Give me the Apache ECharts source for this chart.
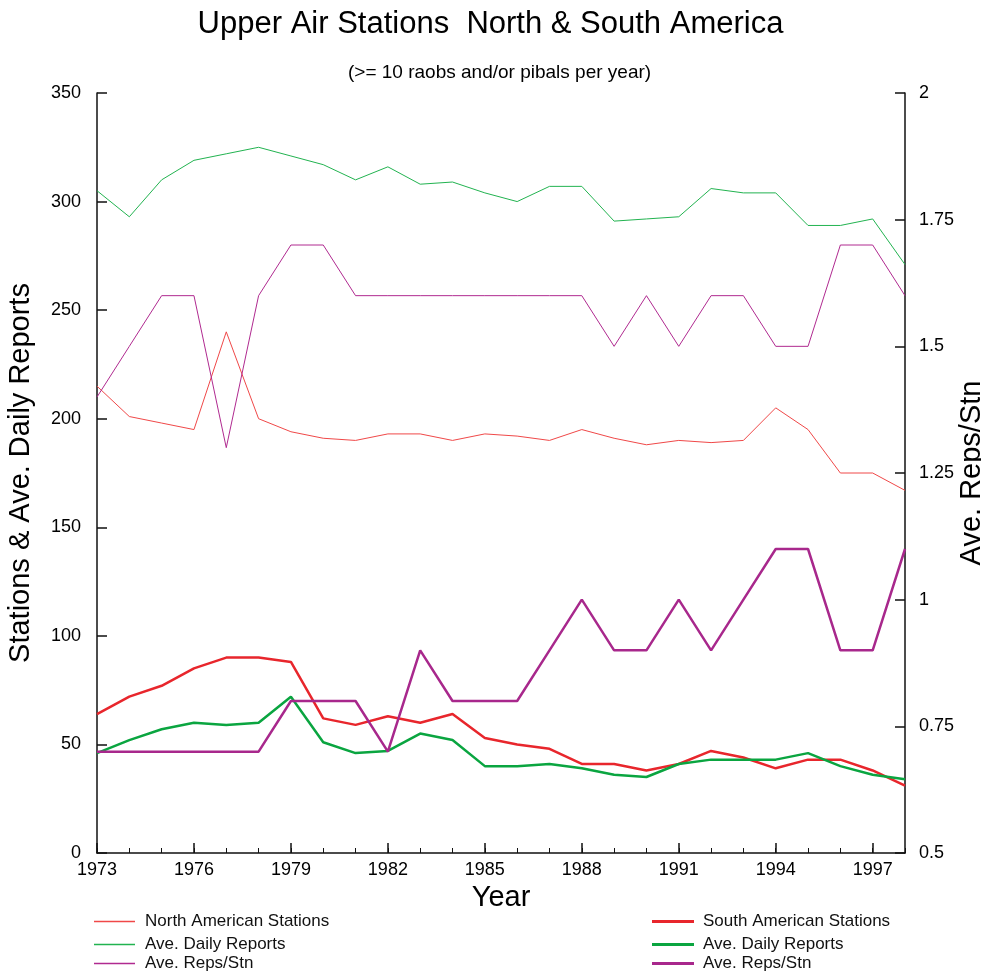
<!DOCTYPE html>
<html>
<head>
<meta charset="utf-8">
<script src="https://cdn.jsdelivr.net/npm/echarts@6/dist/echarts.min.js"></script>
<style>html,body{margin:0;padding:0;background:#fff;overflow:hidden}#c{width:981px;height:972px}</style>
</head>
<body>
<div id="c"></div>
<script>
const years = [1973,1974,1975,1976,1977,1978,1979,1980,1981,1982,1983,1984,1985,1986,1987,1988,1989,1990,1991,1992,1993,1994,1995,1996,1997,1998];
const naStations = [215,201,198,195,240,200,194,191,190,193,193,190,193,192,190,195,191,188,190,189,190,205,195,175,175,167];
const naDaily = [305,293,310,319,322,325,321,317,310,316,308,309,304,300,307,307,291,292,293,306,304,304,289,289,292,271];
const naReps = [1.4,1.5,1.6,1.6,1.3,1.6,1.7,1.7,1.6,1.6,1.6,1.6,1.6,1.6,1.6,1.6,1.5,1.6,1.5,1.6,1.6,1.5,1.5,1.7,1.7,1.6];
const saStations = [64,72,77,85,90,90,88,62,59,63,60,64,53,50,48,41,41,38,41,47,44,39,43,43,38,31];
const saDaily = [46,52,57,60,59,60,72,51,46,47,55,52,40,40,41,39,36,35,41,43,43,43,46,40,36,34];
const saReps = [0.7,0.7,0.7,0.7,0.7,0.7,0.8,0.8,0.8,0.7,0.9,0.8,0.8,0.8,0.9,1.0,0.9,0.9,1.0,0.9,1.0,1.1,1.1,0.9,0.9,1.1];

const titleText = 'Upper Air Stations  North & South America';
const subtitleText = '(>= 10 raobs and/or pibals per year)';
const leftName = 'Stations & Ave. Daily Reports';
const rightName = 'Ave. Reps/Stn';
const xName = 'Year';
const naNames = ['North American Stations', 'Ave. Daily Reports', 'Ave. Reps/Stn'];
const saNames = ['South American Stations', 'Ave. Daily Reports ', 'Ave. Reps/Stn '];

const FONT = '"Liberation Sans", Arial, sans-serif';
const RED_T = '#f04848', GREEN_T = '#22b350', PURPLE_T = '#b02a90';
const RED = '#e8262c', GREEN = '#0aa540', PURPLE = '#a8288c';
const pairs = arr => years.map((y, i) => [y, arr[i]]);

function line(name, data, color, width, yIdx) {
  return {
    type: 'line', name: name, data: pairs(data), xAxisIndex: 0, yAxisIndex: yIdx,
    symbol: 'none', showSymbol: false, lineStyle: { color: color, width: width }, itemStyle: { color: color },
    animation: false
  };
}

const rowTops = [908, 931, 950];
function legendItem(name, left, top, thick, textPad) {
  return {
    orient: 'horizontal', left: left, top: top, icon: 'rect',
    itemWidth: thick ? 42 : 41, itemHeight: thick ? 3 : 1.5, itemGap: 0,
    data: [name], selectedMode: false,
    textStyle: { fontSize: 17, color: '#111', fontFamily: FONT, padding: [0, 0, 0, textPad] }
  };
}
const legends = [];
naNames.forEach((n, i) => legends.push(legendItem(n, 89, rowTops[i], false, 5)));
saNames.forEach((n, i) => legends.push(legendItem(n, 647, rowTops[i], true, 4)));

const chart = echarts.init(document.getElementById('c'), null, { renderer: 'canvas' });
chart.setOption({
  backgroundColor: '#fff',
  textStyle: { fontFamily: FONT },
  title: [
    { text: titleText, left: 'center', top: 4, textStyle: { fontSize: 31, fontWeight: 'normal', color: '#000', fontFamily: FONT } },
    { text: subtitleText, left: 343, top: 58, textStyle: { fontSize: 19, fontWeight: 'normal', color: '#000', fontFamily: FONT } }
  ],
  grid: { left: 97, right: 76, top: 93, bottom: 119, containLabel: false, outerBoundsMode: 'none' },
  legend: legends,
  xAxis: [
    { type: 'value', position: 'bottom', min: 1973, max: 1998, interval: 3,
      name: xName, nameLocation: 'middle', nameGap: 30, nameMoveOverlap: false,
      nameTextStyle: { fontSize: 29, color: '#000', fontFamily: FONT },
      axisLine: { show: true, lineStyle: { color: '#111', width: 1.5 } },
      axisTick: { show: true, inside: true, length: 10, lineStyle: { color: '#111', width: 1.5 } },
      axisLabel: { show: true, fontSize: 18, color: '#000', margin: 8, showMaxLabel: false, formatter: v => String(v) },
      splitLine: { show: false } },
    { type: 'value', position: 'bottom', min: 1973, max: 1998, interval: 1,
      axisLine: { show: false },
      axisTick: { show: true, inside: true, length: 5, lineStyle: { color: '#111', width: 1 } },
      axisLabel: { show: false }, splitLine: { show: false } }
  ],
  yAxis: [
    { type: 'value', position: 'left', min: 0, max: 350, interval: 50,
      name: leftName, nameLocation: 'middle', nameGap: 62, nameMoveOverlap: false,
      nameTextStyle: { fontSize: 29, color: '#000', fontFamily: FONT },
      axisLine: { show: true, lineStyle: { color: '#111', width: 1.5 } },
      axisTick: { show: true, inside: true, length: 10, lineStyle: { color: '#111', width: 1.5 } },
      axisLabel: { fontSize: 18, color: '#000', margin: 16, showMinLabel: true, showMaxLabel: true },
      splitLine: { show: false } },
    { type: 'value', position: 'right', min: 0.5, max: 2, interval: 0.25,
      name: rightName, nameLocation: 'middle', nameGap: 52, nameMoveOverlap: false,
      nameTextStyle: { fontSize: 29, color: '#000', fontFamily: FONT },
      axisLine: { show: true, lineStyle: { color: '#111', width: 1.5 } },
      axisTick: { show: true, inside: true, length: 10, lineStyle: { color: '#111', width: 1.5 } },
      axisLabel: { fontSize: 18, color: '#000', margin: 14, showMinLabel: true, showMaxLabel: true },
      splitLine: { show: false } }
  ],
  series: [
    line(naNames[0], naStations, RED_T, 1, 0),
    line(naNames[1], naDaily, GREEN_T, 1, 0),
    line(naNames[2], naReps, PURPLE_T, 1, 1),
    line(saNames[0], saStations, RED, 2.5, 0),
    line(saNames[1], saDaily, GREEN, 2.5, 0),
    line(saNames[2], saReps, PURPLE, 2.5, 1)
  ]
});
</script>
</body>
</html>
